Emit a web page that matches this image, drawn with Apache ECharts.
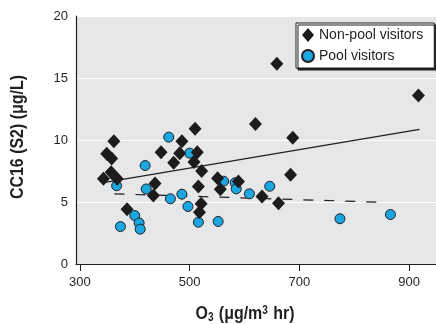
<!DOCTYPE html>
<html>
<head>
<meta charset="utf-8">
<script src="https://cdn.jsdelivr.net/npm/echarts@6/dist/echarts.min.js"></script>
<style>
html,body{margin:0;padding:0;background:#fff;}
#c{width:436px;height:324px;}
</style>
</head>
<body>
<div id="c"></div>
<script>
// Non-pool visitors: O3 (µg/m3 hr), CC16 (µg/L)
var nonPoolX = [343, 357, 368, 349, 358, 362, 386, 434, 437, 448, 471, 482, 486, 510, 514, 508, 522, 516, 521, 518, 551, 556, 589, 620, 632, 659, 662, 684, 688, 917];
var nonPoolY = [6.87, 7.40, 6.87, 8.9, 8.5, 9.9, 4.41, 5.52, 6.49, 9.02, 8.16, 8.94, 9.9, 10.9, 9.02, 8.23, 7.5, 6.25, 4.85, 4.18, 6.92, 6.02, 6.65, 11.3, 5.44, 16.15, 4.9, 7.2, 10.18, 13.59];
// Pool visitors
var poolX = [462, 500, 419, 367, 421, 465, 486, 497, 516, 552, 374, 400, 408, 410, 562, 583, 585, 609, 646, 774, 866];
var poolY = [10.23, 8.94, 7.94, 6.31, 6.05, 5.26, 5.63, 4.64, 3.37, 3.43, 3.02, 3.91, 3.31, 2.81, 6.68, 6.55, 6.06, 5.66, 6.27, 3.65, 3.99];
// Regression line endpoints
var nonPoolFitX = [343, 919];
var nonPoolFitY = [6.56, 10.85];
var poolFitX = [363, 849];
var poolFitY = [5.66, 4.98];
// Tick labels
var xTicks = [300, 500, 700, 900];
var yTicks = [0, 5, 10, 15, 20];
var seriesNames = ['Non-pool visitors', 'Pool visitors'];

function zip(a, b) { return a.map(function (v, i) { return [v, b[i]]; }); }

var FONT = "'Liberation Sans', Arial, sans-serif";
var chart = echarts.init(document.getElementById('c'), null, {renderer: 'canvas'});
chart.setOption({
  animation: false,
  backgroundColor: '#ffffff',
  grid: {left: 76, right: 0, top: 16, bottom: 60, show: true, backgroundColor: '#e6e7e8', borderWidth: 0},
  xAxis: {
    type: 'value', min: 293, max: 949,
    axisLine: {show: true, onZero: false, lineStyle: {color: '#231f20', width: 1.2}},
    axisTick: {show: true, customValues: xTicks, length: 7, lineStyle: {color: '#231f20'}},
    axisLabel: {customValues: xTicks, margin: 12, fontFamily: FONT, fontSize: 13, color: '#231f20'},
    splitLine: {show: false}
  },
  yAxis: {
    type: 'value', min: yTicks[0], max: yTicks[yTicks.length - 1], interval: 5,
    axisLine: {show: true, lineStyle: {color: '#231f20', width: 1.2}},
    axisTick: {show: false},
    axisLabel: {margin: 8, fontFamily: FONT, fontSize: 13, color: '#231f20'},
    splitLine: {show: true, lineStyle: {color: '#ffffff', width: 1}}
  },
  legend: {
    orient: 'vertical', left: 296, top: 23,
    padding: [5, 11, 5, 5],
    itemGap: 7, itemWidth: 12, itemHeight: 14,
    backgroundColor: '#ffffff', borderColor: '#231f20', borderWidth: 1,
    shadowColor: '#231f20', shadowOffsetX: 2, shadowOffsetY: 2, shadowBlur: 0.01,
    textStyle: {fontFamily: FONT, fontSize: 14, color: '#231f20'},
    data: [
      {name: seriesNames[0], icon: 'diamond'},
      {name: seriesNames[1], icon: 'circle'}
    ]
  },
  graphic: [
    {type: 'text', z: 100,
      rotation: Math.PI / 2, x: 18, y: 137, scaleX: 0.84,
      style: {text: 'CC16 (S2) (μg/L)', font: 'bold 19px ' + FONT, fill: '#231f20', textAlign: 'center', textVerticalAlign: 'middle'}
    },
    {type: 'text', z: 100, x: 245, y: 314, scaleX: 0.84,
      style: {
        text: '{b|O}{s|3}{b| (μg/m}{p|3}{b| hr)}',
        textAlign: 'center', textVerticalAlign: 'middle',
        rich: {
          b: {font: 'bold 19px ' + FONT, fill: '#231f20'},
          s: {font: 'bold 12px ' + FONT, fill: '#231f20', verticalAlign: 'bottom', padding: [6, 1, 0, 0]},
          p: {font: 'bold 12px ' + FONT, fill: '#231f20', verticalAlign: 'top', padding: [0, 1, 6, 0]}
        }
      }
    }
  ],
  series: [
    {type: 'line', data: zip(nonPoolFitX, nonPoolFitY), symbol: 'none', silent: true, z: 1,
      lineStyle: {color: '#231f20', width: 1.2}},
    {type: 'line', data: zip(poolFitX, poolFitY), symbol: 'none', silent: true, z: 1,
      lineStyle: {color: '#231f20', width: 1.2, type: [10, 11]}},
    {name: seriesNames[1], type: 'scatter', data: zip(poolX, poolY), symbol: 'circle', symbolSize: 10, z: 2,
      itemStyle: {color: '#1aa7e1', borderColor: '#231f20', borderWidth: 1, opacity: 1}},
    {name: seriesNames[0], type: 'scatter', data: zip(nonPoolX, nonPoolY), symbol: 'diamond', symbolSize: [13, 14], z: 3,
      itemStyle: {color: '#1e1b1c', opacity: 1}}
  ]
});
</script>
</body>
</html>
